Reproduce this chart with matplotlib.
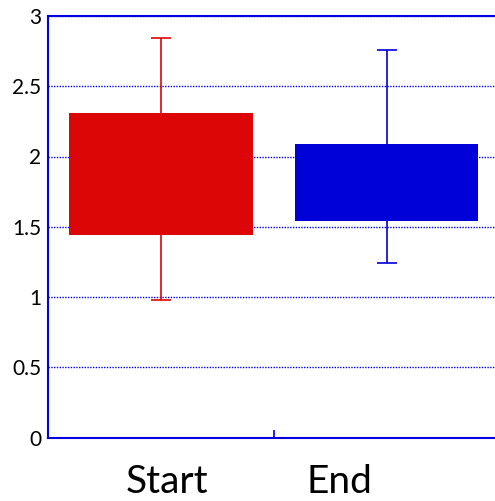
import numpy as np
import matplotlib.pyplot as plt

categories = ['Start', 'End']
box_low = [1.44, 1.54]
box_high = [2.31, 2.09]
whisker_low = [0.98, 1.24]
whisker_high = [2.84, 2.76]
colors = ['#dd0606', '#0000d8']
y_ticks = [0, 0.5, 1, 1.5, 2, 2.5, 3]
y_labels = ['0', '0.5', '1', '1.5', '2', '2.5', '3']

plt.rcParams['font.family'] = ['Lato', 'DejaVu Sans']

fig = plt.figure(figsize=(4.95, 5.01), dpi=100)
ax = fig.add_axes([48 / 495, 1 - 437.5 / 501, 1 - 48 / 495 + 0.01, (437.5 - 16) / 501])

x = np.arange(len(categories))
low = np.array(box_low)
high = np.array(box_high)
ax.bar(x, high - low, bottom=low, width=0.81, color=colors, zorder=3)

for i in range(len(categories)):
    mid = (box_low[i] + box_high[i]) / 2
    ax.errorbar(x[i], mid,
                yerr=[[mid - whisker_low[i]], [whisker_high[i] - mid]],
                color=colors[i], lw=1.2, capsize=7, capthick=1.2, zorder=2)

ax.set_xlim(-0.5, 1.5)
ax.set_ylim(0, 3)
ax.set_yticks(y_ticks)
ax.set_yticklabels(y_labels, fontsize=15)
ax.set_xticks([0.5])
ax.set_xticklabels([''])
ax.tick_params(axis='y', length=0, pad=5)
ax.tick_params(axis='x', direction='in', length=6, color='#0000e0', width=1.2)

ax.grid(axis='y', color='#0000e0', linestyle=(0, (1, 1)), lw=1, zorder=1)
for s in ['left', 'bottom', 'top']:
    ax.spines[s].set_color('#0000e0')
    ax.spines[s].set_linewidth(1.5)
ax.spines['right'].set_visible(False)

# category labels sit a little off the bar centres, well below the axis
ax.text(0.025, -0.315, categories[0], ha='center', va='center', fontsize=28, clip_on=False)
ax.text(0.79, -0.315, categories[1], ha='center', va='center', fontsize=28, clip_on=False)

fig.savefig('out.png', dpi=100)
